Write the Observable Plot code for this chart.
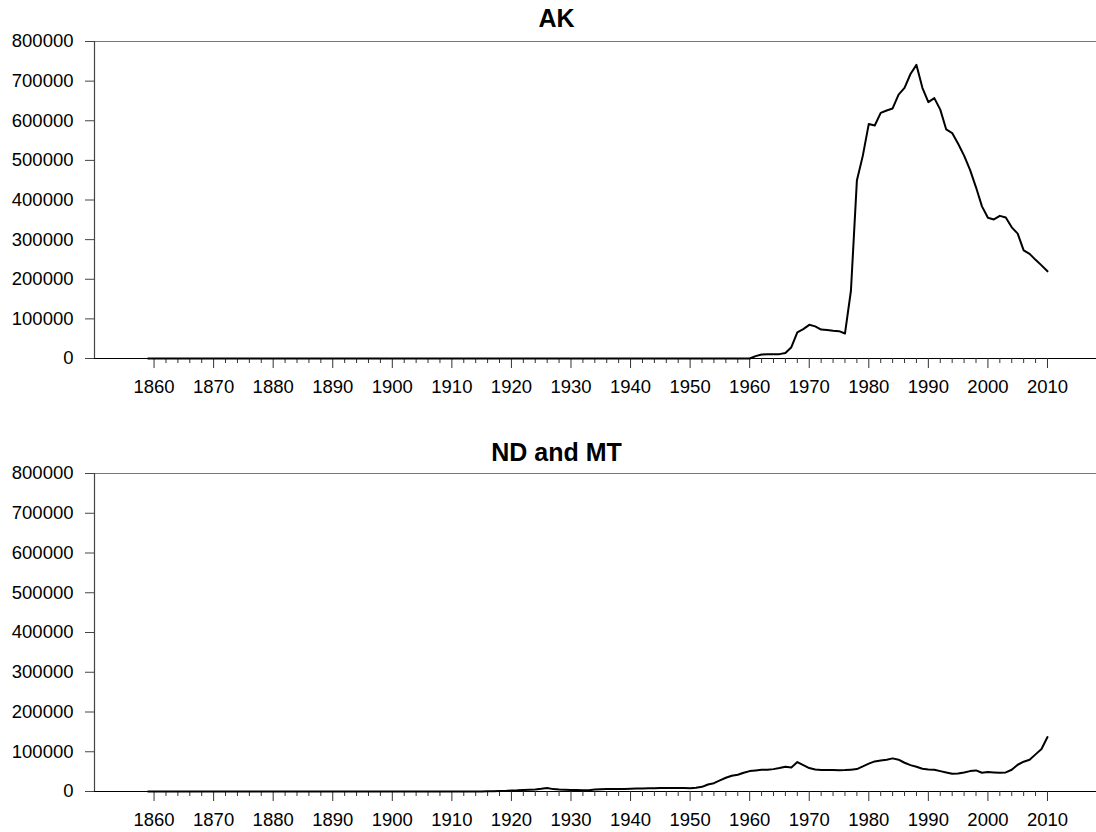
<!DOCTYPE html>
<html><head><meta charset="utf-8">
<script src="https://cdn.jsdelivr.net/npm/d3@7"></script>
<script src="https://cdn.jsdelivr.net/npm/@observablehq/plot@0.6"></script>
<style>
html,body{margin:0;padding:0;background:#fff;}
#chart svg{display:block;}
</style></head><body><div id="chart"></div>
<script>
const firstYear = 1859;
const lastYear = 2010;

const panelTitles = ["AK", "ND and MT"];

// Alaska, 1859..2010
const akValues = [
  0,
  0,0,0,0,0,0,0,0,0,0,
  0,0,0,0,0,0,0,0,0,0,
  0,0,0,0,0,0,0,0,0,0,
  0,0,0,0,0,0,0,0,0,0,
  0,0,0,0,0,0,0,0,0,0,
  0,0,0,0,0,0,0,0,0,0,
  0,0,0,0,0,0,0,0,0,0,
  0,0,0,0,0,0,0,0,0,0,
  0,0,0,0,0,0,0,0,0,0,
  0,0,0,0,0,0,0,0,0,0,
  0, 6000, 10000, 10500, 10500, 11000, 14000, 28500, 66000, 74000,
  85000, 81000, 73000, 72000, 70000, 69000, 63000, 171000, 449000, 512000,
  592000, 588000, 620000, 626000, 631000, 666000, 683000, 718000, 741000, 683000,
  647000, 657000, 628000, 578000, 569000, 542000, 512000, 476000, 432000, 384000,
  355000, 351000, 360000, 356000, 331000, 315000, 273000, 264000, 249000, 235000,
  220000
];

// North Dakota and Montana, 1859..2010
const ndmtValues = [
  0,
  0,0,0,0,0,0,0,0,0,0,
  0,0,0,0,0,0,0,0,0,0,
  0,0,0,0,0,0,0,0,0,0,
  0,0,0,0,0,0,0,0,0,0,
  0,0,0,0,0,0,0,0,0,0,
  0,0,0,0,0,200,500,800,1000,1500,
  2500, 3000, 4000, 4500, 5000, 6700, 9000, 6000, 5000, 4500,
  4000, 3700, 3400, 3400, 5000, 5500, 6000, 6300, 6000, 6500,
  7100, 7300, 7500, 8000, 8400, 8600, 8800, 8800, 8800, 8600,
  8400, 9300, 11800, 17700, 21000, 27800, 34500, 39500, 42000, 47000,
  51300, 53000, 54700, 54700, 56300, 58900, 62200, 60500, 74000, 66400,
  58900, 55500, 53800, 53800, 53800, 53400, 53800, 55000, 56400, 63000,
  70000, 75700, 78200, 80000, 83300, 80000, 72300, 66400, 62200, 57200,
  55500, 54700, 51300, 48000, 44600, 45400, 48000, 51300, 53000, 47100,
  48800, 48000, 47100, 48000, 54700, 67300, 74900, 80000, 93400, 106800,
  137000
];

const yTicks = [0, 100000, 200000, 300000, 400000, 500000, 600000, 700000, 800000];
const majorYears = [1860, 1870, 1880, 1890, 1900, 1910, 1920, 1930, 1940, 1950, 1960, 1970, 1980, 1990, 2000, 2010];
const minorYears = d3.range(1862, 2010, 2).filter(y => y % 10 !== 0);

const years = d3.range(firstYear, lastYear + 1);
const font = "'Liberation Sans', Arial, Helvetica, sans-serif";

function panel(title, values, mt, mb, titleDy) {
  const data = years.map((year, i) => ({year, value: values[i]}));
  return Plot.plot({
    width: 1096, height: 416,
    marginLeft: 94, marginRight: 0, marginTop: mt, marginBottom: mb,
    style: {fontFamily: font, fontSize: "18.5px", color: "#000", background: "#fff"},
    x: {domain: [1850, 2018.23], label: null},
    y: {domain: [0, 800000], label: null},
    marks: [
      Plot.ruleY([800000], {stroke: "#777", strokeWidth: 1.2}),
      Plot.ruleY([0], {stroke: "#000", strokeWidth: 1.2}),
      Plot.ruleX([1850], {y1: 0, y2: 800000, stroke: "#444", strokeWidth: 1.2}),
      Plot.axisY({ticks: yTicks, tickSize: 9, tickPadding: 12, tickFormat: d => String(d), label: null, stroke: "#444", fill: "#000"}),
      Plot.axisX({ticks: minorYears, tickSize: 5, tickFormat: () => "", label: null, stroke: "#333"}),
      Plot.axisX({ticks: majorYears, tickSize: 10, tickPadding: 11, tickFormat: d => String(d), label: null, stroke: "#333", fill: "#000"}),
      Plot.line(data, {x: "year", y: "value", stroke: "#000", strokeWidth: 2}),
      Plot.text([title], {text: d => d, frameAnchor: "top", dx: -39, dy: titleDy, fontSize: 25, fontWeight: "bold", lineAnchor: "middle", fill: "#000"})
    ]
  });
}

const root = document.getElementById("chart");
root.appendChild(panel(panelTitles[0], akValues, 41, 58, -23));
root.appendChild(panel(panelTitles[1], ndmtValues, 57, 41, -21));
</script>
</body></html>
